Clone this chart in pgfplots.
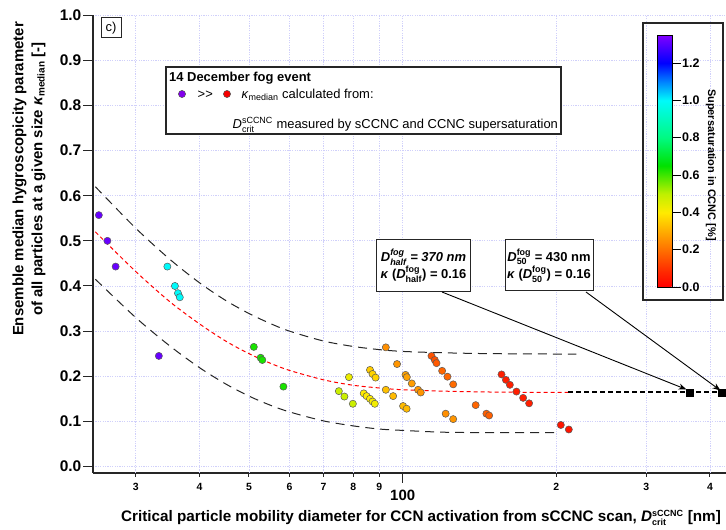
\documentclass[border=0pt]{standalone}
\usepackage{pgfplots}
\pgfplotsset{compat=1.18}
\usepackage{pgfplotstable}
\usepackage{fontspec}
\setmainfont{Liberation Sans}
\usetikzlibrary{arrows.meta}
\pgfplotsset{/pgf/number format/assume math mode=true}
\newcommand{\ssc}[2]{\ensuremath{^{\mbox{\fontsize{9}{9}\selectfont #1}}_{\mbox{\fontsize{9}{9}\selectfont #2}}}}
\definecolor{gridc}{RGB}{208,208,250}

\pgfplotstableread{
x y s
25.4 0.557 1.32
26.4 0.500 1.32
27.4 0.443 1.32
33.3 0.245 1.32
34.6 0.443 1.0
35.8 0.400 1.0
36.3 0.384 1.0
36.6 0.375 1.0
51.1 0.265 0.63
52.7 0.241 0.63
53.1 0.236 0.63
58.4 0.177 0.63
75.0 0.167 0.48
76.9 0.155 0.48
79.9 0.139 0.48
78.5 0.198 0.43
86.3 0.214 0.35
87.3 0.205 0.36
88.5 0.197 0.36
83.9 0.162 0.40
85.0 0.156 0.40
86.3 0.150 0.40
87.3 0.144 0.41
88.2 0.139 0.42
92.7 0.170 0.33
95.8 0.156 0.32
92.7 0.264 0.25
97.5 0.227 0.26
101.3 0.203 0.28
101.9 0.198 0.28
104.2 0.184 0.27
107.2 0.170 0.26
108.5 0.164 0.26
100.2 0.134 0.32
101.8 0.128 0.32
113.9 0.245 0.15
115.6 0.236 0.15
116.5 0.229 0.16
119.5 0.212 0.18
122.4 0.199 0.18
125.6 0.182 0.19
121.4 0.117 0.25
125.6 0.105 0.26
139.0 0.136 0.18
145.9 0.117 0.17
147.7 0.113 0.17
156.2 0.204 0.06
159.3 0.192 0.06
162.2 0.181 0.06
167.1 0.166 0.06
172.2 0.152 0.06
176.9 0.140 0.06
204.1 0.092 0.04
211.6 0.082 0.04
}\datatable

\begin{document}
\begin{tikzpicture}
\useasboundingbox (0bp,0bp) rectangle (726bp,530bp);
\begin{axis}[
  at={(93bp,57bp)}, anchor=south west,
  scale only axis, width=633bp, height=457.8bp,
  xmode=log, xmin=24.74, xmax=430, ymin=-0.0144, ymax=1.0,
  axis lines*=left,
  axis line style={line width=1.3bp, black!85},
  clip=false,
  tick align=outside,
  major tick length=10bp,
  every tick/.style={black!85, line width=1bp},
  xtick={100},
  xticklabels={100},
  minor xtick={},
  xticklabel style={font=\bfseries\fontsize{15}{15}\selectfont, inner sep=3bp, yshift=-4bp},
  extra x ticks={30,40,50,60,70,80,90,200,300,400},
  extra x tick labels={3,4,5,6,7,8,9,2,3,4},
  extra x tick style={major tick length=4bp, grid=major, xticklabel style={font=\bfseries\fontsize{10.5}{10.5}\selectfont, inner sep=2bp, yshift=0bp}},
  ytick={0,0.1,0.2,0.3,0.4,0.5,0.6,0.7,0.8,0.9,1.0},
  yticklabel style={font=\bfseries\fontsize{15.5}{15.5}\selectfont, inner sep=1.5bp, /pgf/number format/.cd, fixed, fixed zerofill, precision=1},
  xmajorgrids=true, ymajorgrids=true,
  major grid style={dash pattern=on 1.2bp off 1.2bp, line width=0.8bp, gridc},
  colormap={sat}{rgb255(0cm)=(255,0,0); rgb255(0.08cm)=(255,40,0); rgb255(0.22cm)=(255,125,0); rgb255(0.4cm)=(255,235,0); rgb255(0.5cm)=(190,240,0); rgb255(0.65cm)=(0,225,0); rgb255(0.8cm)=(0,250,130); rgb255(1cm)=(0,250,250); rgb255(1.1cm)=(0,130,255); rgb255(1.2cm)=(0,0,255); rgb255(1.35cm)=(130,0,255)},
  point meta min=0, point meta max=1.35,
  colorbar,
  colorbar style={
    at={(parent axis.north west)}, anchor=north west, xshift=556bp, yshift=-19.8bp,
    scale only axis, width=15bp, height=252bp,
    ytick={0,0.2,0.4,0.6,0.8,1.0,1.2},
    ytick pos=right, yticklabel pos=right,
    tick align=outside, major tick length=8bp,
    every tick/.style={black, line width=0.9bp},
    axis line style={line width=0.9bp},
    ymajorgrids=false,
    yticklabel style={font=\bfseries\fontsize{12.5}{12.5}\selectfont, inner sep=1.5bp, /pgf/number format/.cd, fixed, fixed zerofill, precision=1},
  },
]
\addplot[black!85, line width=1bp, dash pattern=on 9bp off 6bp, smooth] coordinates {(25,0.620)(30,0.528)(35,0.459)(40,0.407)(45,0.368)(50,0.339)(55,0.317)(60,0.300)(70,0.278)(80,0.266)(90,0.259)(100,0.255)(120,0.252)(150,0.250)(219,0.249)};
\addplot[black!85, line width=1bp, dash pattern=on 9bp off 6bp, smooth] coordinates {(25,0.415)(30,0.330)(35,0.267)(40,0.219)(45,0.183)(50,0.156)(55,0.136)(60,0.121)(70,0.101)(80,0.090)(90,0.083)(100,0.080)(120,0.076)(150,0.075)(203,0.075)};
\addplot[red, line width=1bp, dash pattern=on 4bp off 3bp, smooth] coordinates {(25,0.520)(30,0.432)(35,0.365)(40,0.316)(45,0.278)(50,0.250)(55,0.229)(60,0.213)(70,0.192)(80,0.180)(90,0.174)(100,0.170)(120,0.167)(150,0.165)(211,0.164)};
\addplot[black, line width=2bp, dash pattern=on 5bp off 3bp] coordinates {(211,0.164)(430,0.164)};
\addplot[only marks, mark=square*, mark size=3.3bp, black] coordinates {(365,0.164)(422,0.164)};
\addplot[scatter, only marks, mark=*, mark size=3.6bp, point meta=explicit,
  scatter/use mapped color={draw=black!65, fill=mapped color}, mark options={line width=0.5bp}]
  table[x=x, y=y, meta=s] {\datatable};
\end{axis}
\begin{scope}[x=1bp,y=1bp]
% panel letter
\node[draw, line width=1bp, black!85, minimum width=20bp, minimum height=20bp, inner sep=0pt, font=\fontsize{13}{13}\selectfont, text=black] at (111,502) {c)};
% legend box
\draw[line width=1.2bp, black!85, fill=white] (166,463) rectangle (561,396);
\node[anchor=base west, inner sep=0pt, font=\bfseries\fontsize{13}{13}\selectfont] at (169,448.5) {14 December fog event};
\fill[draw=black!65, line width=0.5bp, fill={rgb,255:red,130;green,0;blue,235}] (182,436) circle (3.6bp);
\node[anchor=base west, inner sep=0pt, font=\fontsize{13}{13}\selectfont] at (197.5,431.5) {>\kern0pt>};
\fill[draw=black!65, line width=0.5bp, fill={rgb,255:red,245;green,0;blue,0}] (227,436) circle (3.6bp);
\node[anchor=base west, inner sep=0pt, font=\fontsize{13}{13}\selectfont] at (241.5,431.5) {\textit{κ}\ensuremath{_{\mbox{\fontsize{9}{9}\selectfont median}}} calculated from:};
\node[anchor=base west, inner sep=0pt, font=\fontsize{13}{13}\selectfont] at (232.5,401.7) {\textit{D}\ssc{sCCNC}{crit}\ measured by sCCNC and CCNC supersaturation};
% annotation boxes
\node[draw, line width=1bp, black!85, text=black, fill=white, minimum width=93bp, minimum height=52bp, inner sep=2bp, align=center, font=\bfseries\fontsize{13}{16}\selectfont] at (423.5,264) {\textit{D}{\itshape\ssc{fog}{half}}\textit{ = 370 nm}\\\textit{κ} (\textit{D}\ssc{fog}{half}) = 0.16};
\node[draw, line width=1bp, black!85, text=black, fill=white, minimum width=88bp, minimum height=51bp, inner sep=2bp, align=center, font=\bfseries\fontsize{13}{16}\selectfont] at (549,264.5) {\textit{D}\ssc{fog}{50} = 430 nm\\\textit{κ} (\textit{D}\ssc{fog}{50}) = 0.16};
\draw[line width=0.9bp, -{Stealth[length=8bp,width=6bp]}] (442,238) -- (686.5,140.5);
\draw[line width=0.9bp, -{Stealth[length=8bp,width=6bp]}] (586,238) -- (720.5,139.5);
% colorbar frame and label
\draw[line width=1.2bp, black!85] (643,230) rectangle (723,507);
\node[rotate=-90, font=\bfseries\fontsize{11}{11}\selectfont] at (711,365) {Supersaturation in CCNC [\%]};
% axis labels
\node[rotate=90, align=center, font=\bfseries\fontsize{15}{19}\selectfont] at (29,351) {Ensemble median hygroscopicity parameter\\of all particles at a given size \textit{κ}\ensuremath{_{\mbox{\fontsize{10}{10}\selectfont median}}} [-]};
\node[font=\bfseries\fontsize{15.3}{15.3}\selectfont] at (421,12) {Critical particle mobility diameter for CCN activation from sCCNC scan, \textit{D}\ssc{sCCNC}{crit} [nm]};
\end{scope}
\end{tikzpicture}
\end{document}
